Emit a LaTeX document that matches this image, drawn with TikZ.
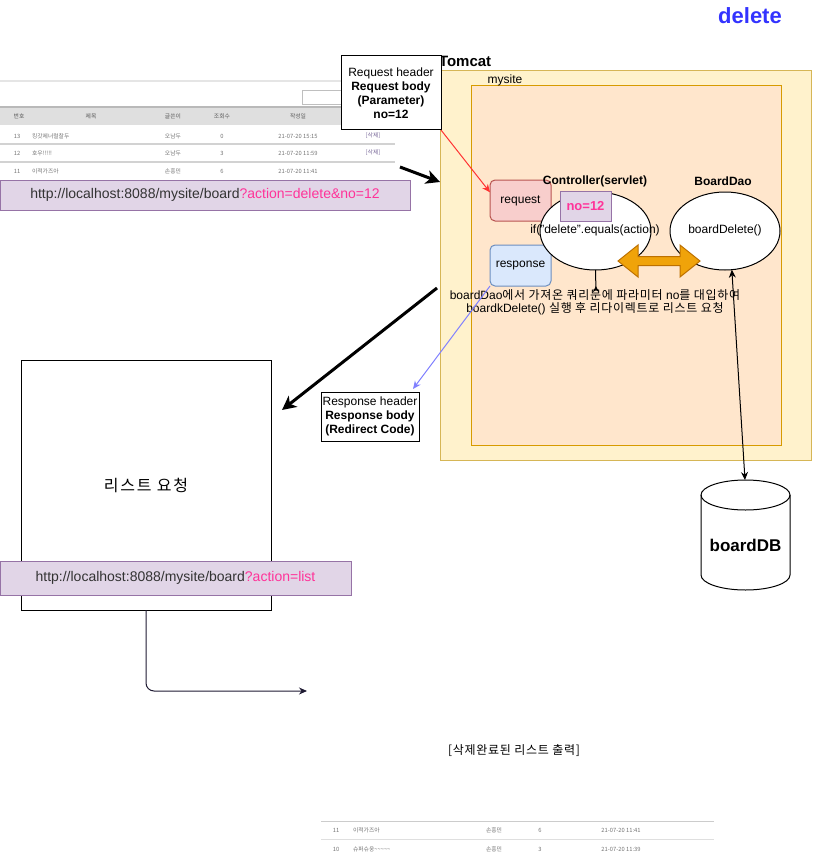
\documentclass[tikz,border=0pt]{standalone}
\usepackage{fontspec}
\setmainfont{Liberation Sans}
\newfontfamily\kr[LetterSpace=6]{Noto Sans CJK KR}
\newfontfamily\krw[LetterSpace=11]{Noto Sans CJK KR}
\newfontfamily\krt{Noto Sans CJK KR}
\usetikzlibrary{arrows.meta,shapes.geometric}
\definecolor{tomF}{HTML}{FFF2CC}
\definecolor{tomD}{HTML}{D6B656}
\definecolor{mysF}{HTML}{FFE6CC}
\definecolor{mysD}{HTML}{D79B00}
\definecolor{reqF}{HTML}{F8CECC}
\definecolor{reqD}{HTML}{B85450}
\definecolor{resF}{HTML}{DAE8FC}
\definecolor{resD}{HTML}{6C8EBF}
\definecolor{urlF}{HTML}{E1D5E7}
\definecolor{urlD}{HTML}{9673A6}
\definecolor{pinkq}{HTML}{FF3399}
\definecolor{orF}{HTML}{F0A30A}
\definecolor{orD}{HTML}{BD7000}
\definecolor{delblue}{HTML}{3333FF}
\definecolor{redarr}{HTML}{FF3333}
\definecolor{bluearr}{HTML}{8080FF}
\definecolor{darkline}{HTML}{1E1A32}
\definecolor{delpurple}{HTML}{7A6A9A}
\begin{document}
\begin{tikzpicture}[x=1pt,y=-1pt, line width=1pt,
  every node/.style={inner sep=0pt, outer sep=0pt},
  f12/.style={font=\fontsize{12}{14}\selectfont},
  tiny/.style={font=\krt\fontsize{5.8}{6}\selectfont, text=black!55},
  tinyhd/.style={font=\krt\fontsize{5.8}{6}\selectfont, text=black!65},
  urlbox/.style={draw=urlD, fill=urlF, rectangle, font=\fontsize{14}{16}\selectfont, text=black!80},
  whitebox/.style={draw=black, fill=white, rectangle, align=center, font=\fontsize{12}{14}\selectfont},
  smallarr/.style={-{Stealth[length=8pt,width=7pt]}},
  thickarr/.style={line width=3pt, -{Stealth[length=14pt,width=14pt,inset=4pt]}},
  ell/.style={draw=black, fill=white, ellipse},
]
\useasboundingbox (0,0) rectangle (821,856);

% ---------- top screenshot (list before delete) ----------
\draw[gray!20, line width=1.5pt] (0,81) -- (395,81);
\draw[gray!50, fill=white] (302,91) rectangle (352,105);
\fill[gray!25] (0,107) rectangle (395,125);
\draw[gray!55, line width=1.5pt] (0,107) -- (395,107);
\draw[gray!35, line width=1.2pt] (0,144) -- (395,144);
\draw[gray!35, line width=1.2pt] (0,162) -- (395,162);
\node[tinyhd] (h1) at (19,116) {번호};
\node[tinyhd] (h2) at (91,116) {제목};
\node[tinyhd] (h3) at (173,116) {글쓴이};
\node[tinyhd] (h4) at (222,116) {조회수};
\node[tinyhd] (h5) at (298,116) {작성일};
\node[tiny] (r1a) at (17,136) {13};
\node[tiny, anchor=west] (r1b) at (32,136) {킹갓제너럴찰두};
\node[tiny] (r1c) at (173,136) {오남두};
\node[tiny] (r1d) at (222,136) {0};
\node[tiny] (r1e) at (298,136) {21-07-20 15:15};
\node[tiny, text=delpurple] (r1f) at (373,136) {[삭제]};
\node[tiny] (r2a) at (17,153) {12};
\node[tiny, anchor=west] (r2b) at (32,153) {호우!!!!!};
\node[tiny] (r2c) at (173,153) {오남두};
\node[tiny] (r2d) at (222,153) {3};
\node[tiny] (r2e) at (298,153) {21-07-20 11:59};
\node[tiny, text=delpurple] (r2f) at (373,153) {[삭제]};
\node[tiny] (r3a) at (17,171) {11};
\node[tiny, anchor=west] (r3b) at (32,171) {이적가즈아};
\node[tiny] (r3c) at (173,171) {손흥민};
\node[tiny] (r3d) at (222,171) {6};
\node[tiny] (r3e) at (298,171) {21-07-20 11:41};

% ---------- bottom screenshot (list after delete) ----------
\draw[gray!40, line width=1pt] (321,821) -- (714,821);
\draw[gray!25, line width=1pt] (321,839) -- (714,839);
\node[tiny] (b1a) at (336,830) {11};
\node[tiny, anchor=west] (b1b) at (353,830) {이적가즈아};
\node[tiny] (b1c) at (494,830) {손흥민};
\node[tiny] (b1d) at (540,830) {6};
\node[tiny] (b1e) at (621,830) {21-07-20 11:41};
\node[tiny] (b2a) at (336,849) {10};
\node[tiny, anchor=west] (b2b) at (353,849) {슈퍼슈웅\textasciitilde\textasciitilde\textasciitilde\textasciitilde\textasciitilde};
\node[tiny] (b2c) at (494,849) {손흥민};
\node[tiny] (b2d) at (540,849) {3};
\node[tiny] (b2e) at (621,849) {21-07-20 11:39};

% ---------- title ----------
\node[font=\bfseries\fontsize{22}{24}\selectfont, text=delblue] (del) at (750,16) {delete};

% ---------- Tomcat / mysite ----------
\node[draw=tomD, fill=tomF, minimum width=371pt, minimum height=389pt] (tomcat) at (625.5,265.5) {};
\node[draw=mysD, fill=mysF, minimum width=310pt, minimum height=359pt] (mysite) at (626,265.5) {};
\node[anchor=west, font=\bfseries\fontsize{15}{17}\selectfont] (tomcatlbl) at (439,61) {Tomcat};
\node[f12] (myslbl) at (505,80) {mysite};

% ---------- request / response ----------
\node[whitebox, minimum width=100pt, minimum height=74pt] (reqhdr) at (391,93)
  {Request header\\\textbf{Request body}\\\textbf{(Parameter)}\\\textbf{no=12}};
\node[draw=reqD, fill=reqF, rounded corners=5pt, minimum width=61pt, minimum height=41pt, f12] (request) at (520.5,200.5) {request};
\node[draw=resD, fill=resF, rounded corners=5pt, minimum width=61pt, minimum height=41pt, f12] (response) at (520.5,265.5) {response};

% ---------- controller / dao ----------
\node[ell, minimum width=111pt, minimum height=78pt] (ctrl) at (595.5,231) {};
\node[ell, minimum width=110pt, minimum height=78pt] (dao) at (725,231) {};
\node[f12, font=\bfseries\fontsize{12}{14}\selectfont] (ctrllbl) at (595,181) {Controller(servlet)};
\node[f12, font=\bfseries\fontsize{12}{14}\selectfont] (daolbl) at (723,181) {BoardDao};
\node[draw=urlD, fill=urlF, minimum width=51pt, minimum height=30pt, text=pinkq, font=\bfseries\fontsize{13}{15}\selectfont] (no12) at (585.5,206) {no=12};
\node[f12] (ctrltxt) at (595,230) {if("delete".equals(action)};
\node[f12] (daotxt) at (725,230) {boardDelete()};

% orange double arrow
\draw[fill=orF, draw=orD] (618,261) -- (638,245) -- (638,256.5) -- (680,256.5) -- (680,245) -- (700,261)
  -- (680,277) -- (680,265.5) -- (638,265.5) -- (638,277) -- cycle;

\node[align=center, font=\fontsize{12}{13.5}\selectfont] (desc) at (595,302.5)
  {boardDao{\kr 에서 가져온 쿼리문에 파라미터 }no{\kr 를 대입하여}\\
   boardkDelete() {\kr 실행 후 리다이렉트로 리스트 요청}};
\coordinate (ctrlarr) at (596,292);
\draw[-{Stealth[reversed,length=6pt,width=6pt]}] (ctrl.south) -- (ctrlarr);

% ---------- DB ----------
\draw[fill=white] (701,495) -- (701,575) arc[start angle=180, end angle=0, x radius=44.5, y radius=15]
  -- (790,495) arc[start angle=0, end angle=-180, x radius=44.5, y radius=15] -- cycle;
\draw (701,495) arc[start angle=180, end angle=0, x radius=44.5, y radius=15];
\node[font=\bfseries\fontsize{17}{19}\selectfont] (db) at (745.5,545) {boardDB};
\coordinate (dbtop) at (745,480);
\draw[{Stealth[length=8pt,width=7pt]}-{Stealth[length=8pt,width=7pt]}] (dbtop) -- (dao.-80);

% ---------- response header ----------
\node[whitebox, minimum width=98pt, minimum height=49pt] (resphdr) at (370,416.5)
  {Response header\\\textbf{Response body}\\\textbf{(Redirect Code)}};

% ---------- list request box ----------
\node[draw=black, fill=white, minimum width=250pt, minimum height=250pt, font=\krw\fontsize{16}{18}\selectfont] (listbox) at (146,485) {리스트 요청};
\node[urlbox, minimum width=351pt, minimum height=34pt] (urllist) at (175.5,578)
  {http://localhost:8088/mysite/board\textcolor{pinkq}{?action=list}};
\node[urlbox, minimum width=410pt, minimum height=30pt] (urldel) at (205,195)
  {http://localhost:8088/mysite/board\textcolor{pinkq}{?action=delete\&no=12}};

% ---------- connectors ----------
\draw[redarr, smallarr] (reqhdr.south east) -- (request.165);
\draw[bluearr, smallarr] (response.south west) -- ([shift={(-6,-3)}]resphdr.north east);
\coordinate (a1s) at (400,167);
\coordinate (a1e) at (440,182);
\draw[thickarr] (a1s) -- (a1e);
\coordinate (a2s) at (437,288);
\coordinate (a2e) at (282,410);
\draw[thickarr] (a2s) -- (a2e);
\coordinate (outend) at (307,691);
\draw[darkline, rounded corners=8pt, smallarr] (listbox.south) -- (146,691) -- (outend);

\node[f12, font=\kr\fontsize{12}{14}\selectfont] (donetxt) at (514,751) {[삭제완료된 리스트 출력]};
\end{tikzpicture}
\end{document}
